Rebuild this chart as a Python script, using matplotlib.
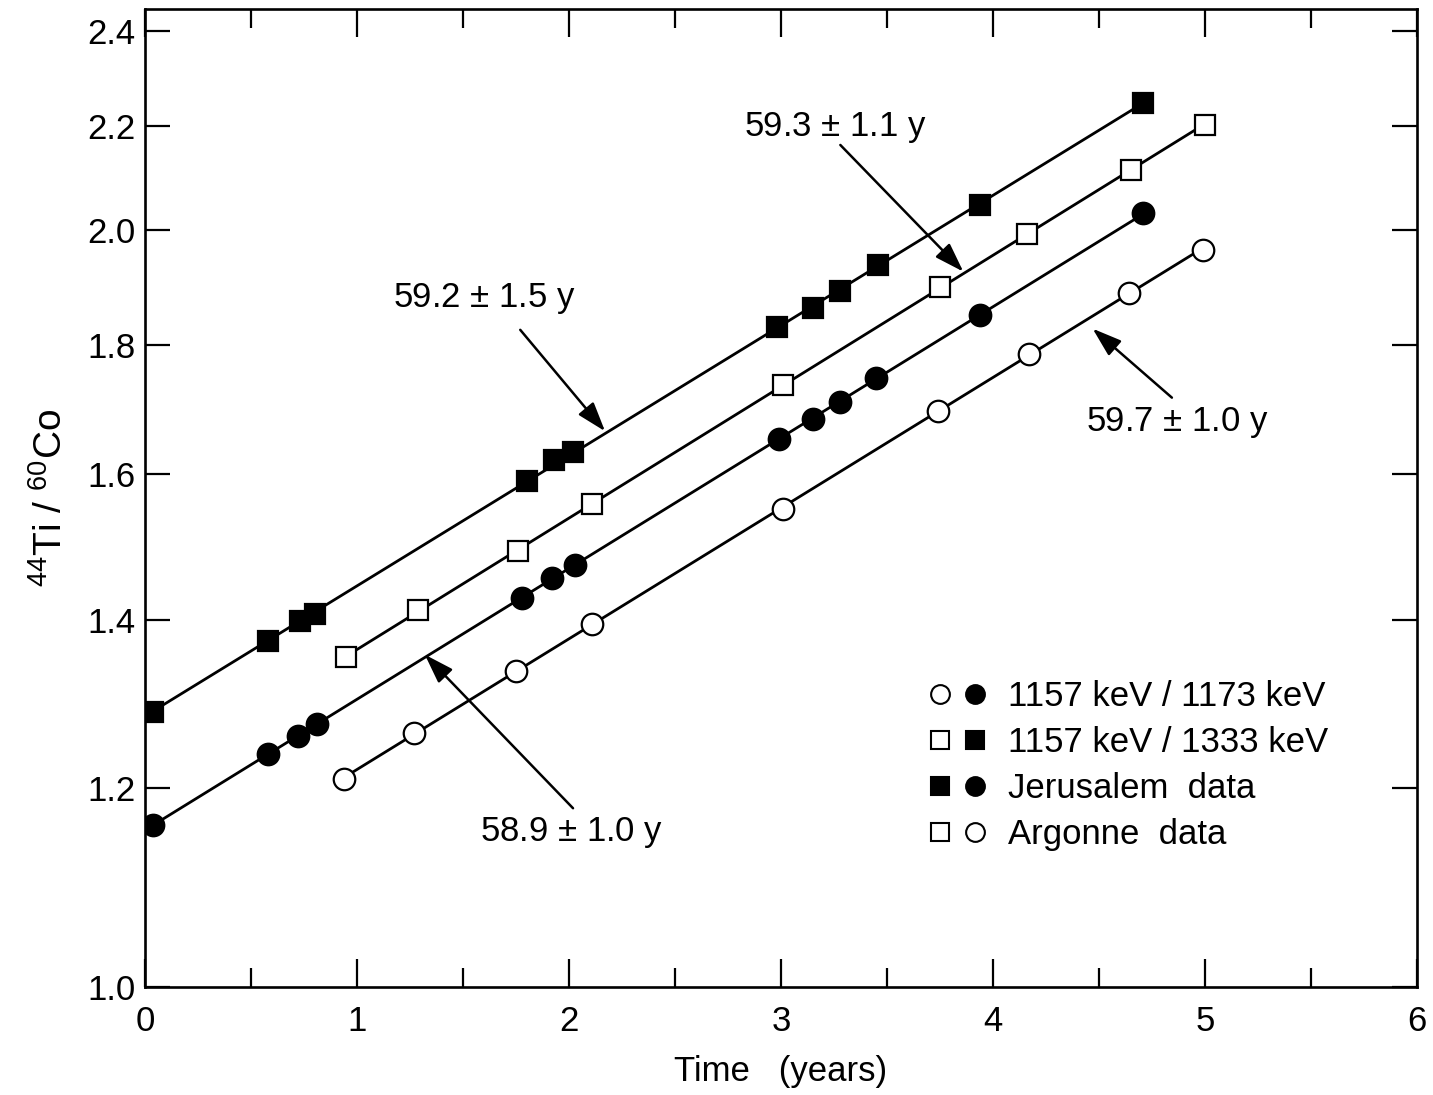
import numpy as np
import matplotlib
matplotlib.use("Agg")
import matplotlib.pyplot as plt
from matplotlib.legend_handler import HandlerTuple
from matplotlib.lines import Line2D

plt.rcParams["font.family"] = ["Liberation Sans", "DejaVu Sans"]
plt.rcParams["mathtext.fontset"] = "custom"
plt.rcParams["mathtext.rm"] = "Liberation Sans"
plt.rcParams["mathtext.default"] = "regular"

# Jerusalem, 1157 keV / 1333 keV (filled squares)
jer_sq_t = [0.04, 0.58, 0.73, 0.80, 1.80, 1.93, 2.02, 2.98, 3.15, 3.28, 3.46, 3.94, 4.71]
jer_sq_r = [1.287, 1.373, 1.398, 1.407, 1.590, 1.621, 1.633, 1.831, 1.863, 1.892, 1.938, 2.048, 2.248]

# Argonne, 1157 keV / 1333 keV (open squares)
arg_sq_t = [0.95, 1.29, 1.76, 2.11, 3.01, 3.75, 4.16, 4.65, 5.00]
arg_sq_r = [1.353, 1.413, 1.491, 1.557, 1.736, 1.899, 1.994, 2.114, 2.203]

# Jerusalem, 1157 keV / 1173 keV (filled circles)
jer_ci_t = [0.04, 0.58, 0.72, 0.81, 1.78, 1.92, 2.03, 2.99, 3.15, 3.28, 3.45, 3.94, 4.71]
jer_ci_r = [1.160, 1.238, 1.259, 1.273, 1.428, 1.455, 1.472, 1.652, 1.683, 1.709, 1.747, 1.851, 2.033]

# Argonne, 1157 keV / 1173 keV (open circles)
arg_ci_t = [0.94, 1.27, 1.75, 2.11, 3.01, 3.74, 4.17, 4.64, 4.99]
arg_ci_r = [1.210, 1.262, 1.336, 1.395, 1.550, 1.695, 1.786, 1.889, 1.965]

half_lives = ["59.2 $\\pm$ 1.5 y", "59.3 $\\pm$ 1.1 y", "59.7 $\\pm$ 1.0 y", "58.9 $\\pm$ 1.0 y"]

legend_labels = ["1157 keV / 1173 keV", "1157 keV / 1333 keV", "Jerusalem  data", "Argonne  data"]

FS = 25

fig = plt.figure(figsize=(14.33, 10.95), dpi=100)
ax = fig.add_axes([0.1012, 0.0986, 0.8876, 0.8932])

series = [
    (jer_sq_t, jer_sq_r, "s", "black"),
    (arg_sq_t, arg_sq_r, "s", "white"),
    (jer_ci_t, jer_ci_r, "o", "black"),
    (arg_ci_t, arg_ci_r, "o", "white"),
]

for t, r, mk, face in series:
    t = np.asarray(t)
    r = np.asarray(r)
    # exponential fit -> straight line on log axis
    k, b = np.polyfit(t, np.log(r), 1)
    tt = np.array([t.min(), t.max()])
    ax.plot(tt, np.exp(k * tt + b), color="black", lw=2.0, zorder=2)
    ax.plot(t, r, ls="none", marker=mk, ms=14.5 if mk == "s" else 15.5,
            mfc=face, mec="black", mew=1.6, zorder=3)

# half-life labels with arrows
ann = [
    # text pos, arrow tail, arrow head
    ((1.60, 1.880), (1.77, 1.826), (2.17, 1.664)),
    ((3.255, 2.197), (3.28, 2.163), (3.86, 1.926)),
    ((4.868, 1.678), (4.844, 1.716), (4.47, 1.828)),
    ((2.014, 1.152), (2.019, 1.178), (1.32, 1.356)),
]
for label, (txt, tail, head) in zip(half_lives, ann):
    ax.text(txt[0], txt[1], label, ha="center", va="center", fontsize=FS)
    ax.annotate("", xy=head, xytext=tail,
                arrowprops=dict(arrowstyle="-|>,head_length=0.9,head_width=0.3",
                                color="black", lw=1.8, mutation_scale=20,
                                shrinkA=0, shrinkB=0))

ax.set_yscale("log")
ax.set_xlim(0, 6)
ax.set_ylim(1.0, 2.45)
ax.set_xticks(range(0, 7))
ax.set_xticks(np.arange(0.5, 6, 1.0), minor=True)
yt = [1.0, 1.2, 1.4, 1.6, 1.8, 2.0, 2.2, 2.4]
ax.set_yticks(yt)
ax.set_yticklabels([f"{v:.1f}" for v in yt])
ax.yaxis.set_minor_locator(matplotlib.ticker.NullLocator())

ax.tick_params(axis="both", which="both", direction="in", top=True, right=True,
               labelsize=FS, width=1.6)
ax.tick_params(axis="x", which="major", length=20, pad=13)
ax.tick_params(axis="x", which="minor", length=14)
ax.tick_params(axis="y", which="major", length=18, pad=7)
for s in ax.spines.values():
    s.set_linewidth(1.9)

ax.set_xlabel("Time   (years)", fontsize=FS, labelpad=12)
ax.set_ylabel(r"$^{44}$Ti / $^{60}$Co", fontsize=28, labelpad=12)

# legend with paired markers
def mk(m, face):
    return Line2D([], [], ls="none", marker=m, ms=13.5, mfc=face, mec="black", mew=1.5)

handles = [
    (mk("o", "white"), mk("o", "black")),
    (mk("s", "white"), mk("s", "black")),
    (mk("s", "black"), mk("o", "black")),
    (mk("s", "white"), mk("o", "white")),
]
ax.legend(handles, legend_labels, handler_map={tuple: HandlerTuple(ndivide=None, pad=0.3)},
          loc="upper left", bbox_to_anchor=(0.602, 0.332), frameon=False, fontsize=FS,
          handlelength=1.7, handletextpad=0.6, labelspacing=0.38, borderpad=0)

fig.savefig("out.png", dpi=100)
